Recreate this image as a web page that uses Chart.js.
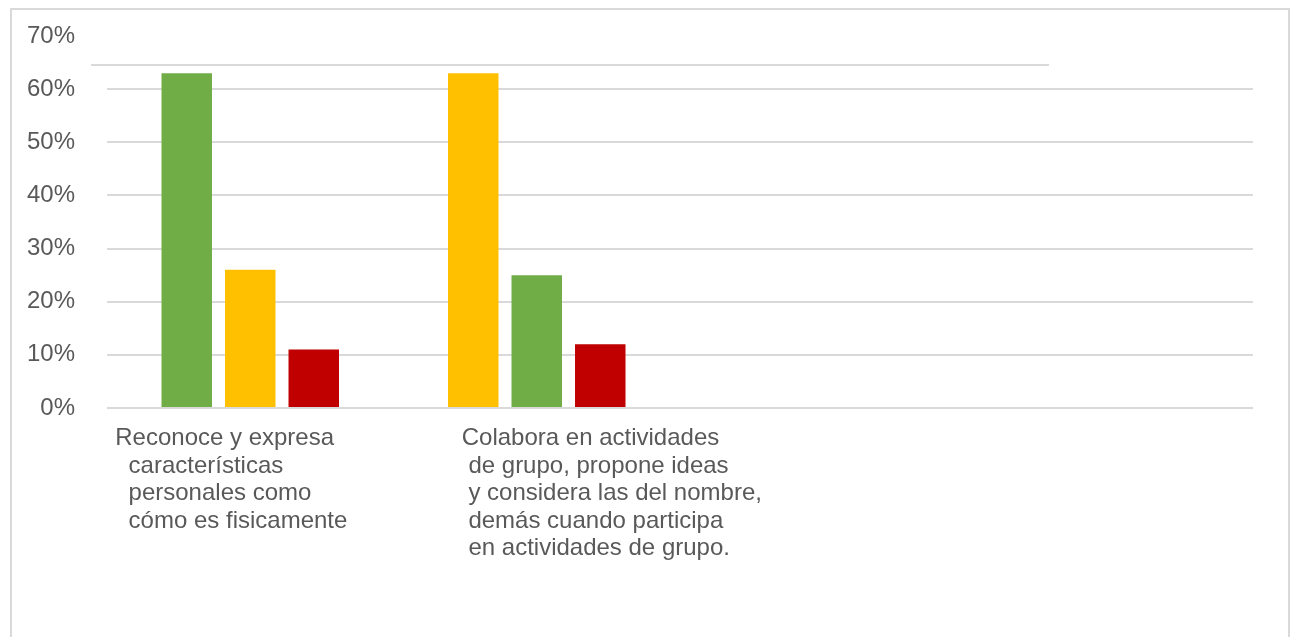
<!DOCTYPE html>
<html>
<head>
<meta charset="utf-8">
<script src="https://cdn.jsdelivr.net/npm/chart.js@4.4.1/dist/chart.umd.min.js"></script>
<style>
  html, body { margin: 0; padding: 0; background: #fff; overflow: hidden; }
  #frame { position: absolute; left: 10px; top: 8px; width: 1276px; height: 700px; border: 2px solid #d9d9d9; }
  #wrap { position: absolute; left: 0; top: 0; width: 1292px; height: 637px; }
</style>
</head>
<body>
<div id="frame"></div>
<div id="wrap"><canvas id="chart" width="1292" height="637"></canvas></div>
<script>
// category labels, one array of lines per category (two empty slots on the right)
const categories = [
  ['Reconoce y expresa', '  características', '  personales como', '  cómo es fisicamente'],
  ['Colabora en actividades', ' de grupo, propone ideas', ' y considera las del nombre,', ' demás cuando participa', ' en actividades de grupo.'],
  [],
  []
];

// values per bar position inside each group
const serie1 = [0.63, 0.63, null, null];
const serie2 = [0.26, 0.25, null, null];
const serie3 = [0.11, 0.12, null, null];

const yTicks = [0, 0.1, 0.2, 0.3, 0.4, 0.5, 0.6, 0.7];

const GREEN = '#70AD47', YELLOW = '#FFC000', RED = '#C00000';
const colors1 = [GREEN, YELLOW, GREEN, GREEN];
const colors2 = [YELLOW, GREEN, YELLOW, YELLOW];
const colors3 = [RED, RED, RED, RED];

const textColor = '#595959';
const gridColor = '#d9d9d9';
const fontFamily = '"Liberation Sans", Arial, sans-serif';
const labelShift = [-135, -75, 0, 0];

const catLabels = {
  id: 'catLabels',
  beforeDatasetsDraw(chart) {
    // the odd short line above 60% in the original
    const { ctx, scales: { y }, chartArea } = chart;
    const ly = Math.round(y.getPixelForValue(0.646));
    ctx.save();
    ctx.strokeStyle = gridColor;
    ctx.lineWidth = 2;
    ctx.beginPath();
    ctx.moveTo(chartArea.left - 16, ly);
    ctx.lineTo(chartArea.left + chartArea.width * 0.822, ly);
    ctx.stroke();
    ctx.restore();
  },
  afterDraw(chart) {
    const { ctx, scales: { x }, chartArea } = chart;
    ctx.save();
    ctx.font = '24px ' + fontFamily;
    ctx.fillStyle = textColor;
    ctx.textAlign = 'left';
    ctx.textBaseline = 'alphabetic';
    categories.forEach((lines, i) => {
      const x0 = x.getPixelForValue(i) + labelShift[i];
      lines.forEach((line, j) => ctx.fillText(line, x0, chartArea.bottom + 37 + j * 27.5));
    });
    ctx.restore();
  }
};

new Chart(document.getElementById('chart'), {
  type: 'bar',
  data: {
    labels: categories,
    datasets: [
      { label: 'Serie 1', data: serie1, backgroundColor: colors1 },
      { label: 'Serie 2', data: serie2, backgroundColor: colors2 },
      { label: 'Serie 3', data: serie3, backgroundColor: colors3 }
    ]
  },
  options: {
    responsive: false,
    animation: false,
    layout: { padding: { left: 27, right: 39, top: 36, bottom: 0 } },
    datasets: { bar: { categoryPercentage: 0.665, barPercentage: 0.795 } },
    plugins: { legend: { display: false }, tooltip: { enabled: false } },
    scales: {
      x: {
        grid: { display: false },
        border: { display: false },
        ticks: { display: false },
        afterFit: s => { s.height = 229; s.paddingLeft = 0; s.paddingRight = 0; }
      },
      y: {
        min: 0,
        max: 0.7,
        afterBuildTicks: s => { s.ticks = yTicks.map(v => ({ value: v })); },
        afterFit: s => { s.width = 80; s.paddingTop = 0; s.paddingBottom = 0; },
        border: { display: false },
        grid: {
          drawTicks: false,
          lineWidth: 2,
          color: c => (c.tick && c.tick.value === 0.7) ? 'rgba(0,0,0,0)' : gridColor
        },
        ticks: {
          padding: 32,
          color: textColor,
          font: { family: fontFamily, size: 24 },
          callback: v => Math.round(v * 100) + '%'
        }
      }
    }
  },
  plugins: [catLabels]
});
</script>
</body>
</html>
